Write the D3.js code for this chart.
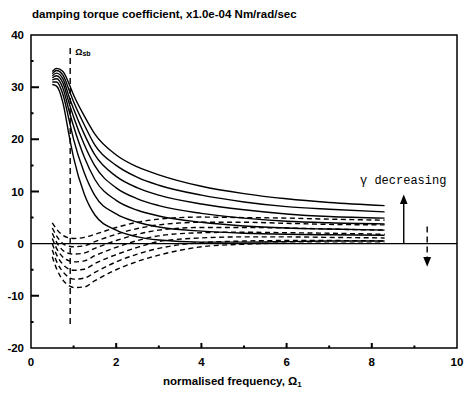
<!DOCTYPE html>
<html>
<head>
<meta charset="utf-8">
<script src="https://cdn.jsdelivr.net/npm/d3@7"></script>
<style>
  body { margin: 0; background: #fff; }
  text { font-family: "Liberation Sans", Arial, sans-serif; font-weight: bold; fill: #000; }
  .mono { font-family: "Liberation Mono", "DejaVu Sans Mono", monospace; font-weight: normal; }
  .curve { fill: none; stroke: #000; stroke-width: 1.4; }
  .dashed { stroke-dasharray: 5,3.5; }
</style>
</head>
<body>
<svg width="465" height="393"></svg>
<script>
// frequencies at which each curve is sampled
const freq = [0.5, 0.6, 0.75, 0.9, 1.0, 1.25, 1.5, 2.0, 2.5, 3.0, 4.0, 5.0, 6.0, 7.0, 8.3];

// solid curves, top to bottom
const solid1 = [33.0, 33.6, 33.0, 30.5, 28.5, 24.5, 21.0, 17.0, 14.7, 13.2, 11.0, 9.6, 8.6, 7.9, 7.3];
const solid2 = [32.6, 33.2, 32.3, 29.3, 27.2, 22.8, 18.9, 15.0, 12.7, 11.2, 9.3, 8.0, 7.1, 6.6, 6.1];
const solid3 = [32.2, 32.7, 31.6, 28.0, 25.8, 21.0, 17.0, 12.9, 10.7, 9.3, 7.6, 6.5, 5.7, 5.2, 4.9];
const solid4 = [31.8, 32.2, 30.8, 26.8, 24.3, 19.0, 14.9, 10.7, 8.6, 7.3, 5.8, 4.9, 4.3, 4.0, 3.8];
const solid5 = [31.4, 31.6, 29.8, 25.3, 22.5, 16.6, 12.3, 8.3, 6.4, 5.3, 4.1, 3.4, 3.0, 2.8, 2.6];
const solid6 = [31.0, 31.0, 28.6, 23.5, 20.0, 13.6, 9.2, 5.7, 4.1, 3.2, 2.4, 2.0, 1.8, 1.7, 1.6];
const solid7 = [30.5, 30.2, 27.0, 20.5, 16.5, 9.5, 5.5, 2.6, 1.3, 0.7, 0.3, 0.3, 0.4, 0.5, 0.5];

// dashed curves, top to bottom
const dashed1 = [4.0, 2.8, 1.6, 1.1, 1.0, 1.2, 1.8, 3.1, 4.1, 4.7, 5.1, 5.0, 4.9, 4.7, 4.5];
const dashed2 = [3.0, 1.5, 0.0, -0.5, -0.6, -0.4, 0.4, 1.8, 2.9, 3.6, 4.1, 4.1, 3.9, 3.7, 3.6];
const dashed3 = [2.0, 0.3, -1.3, -1.9, -2.0, -1.8, -0.9, 0.6, 1.8, 2.6, 3.1, 3.1, 3.0, 2.8, 2.6];
const dashed4 = [1.0, -0.9, -2.6, -3.3, -3.5, -3.3, -2.3, -0.7, 0.6, 1.5, 2.1, 2.2, 2.1, 2.0, 1.8];
const dashed5 = [0.0, -2.1, -4.0, -4.9, -5.1, -4.9, -3.8, -2.1, -0.7, 0.4, 1.1, 1.3, 1.3, 1.2, 1.1];
const dashed6 = [-1.2, -3.4, -5.4, -6.5, -6.8, -6.6, -5.5, -3.5, -2.0, -0.9, 0.2, 0.5, 0.6, 0.6, 0.5];
const dashed7 = [-2.5, -4.8, -7.0, -8.1, -8.4, -8.3, -7.1, -5.0, -3.4, -2.2, -0.6, -0.1, 0.1, 0.1, 0.1];

const xTicks = [0, 2, 4, 6, 8, 10];
const yTicks = [-20, -10, 0, 10, 20, 30, 40];
const xMinor = [1, 2, 3, 4, 5, 6, 7, 8, 9];
const yMinor = [-15, -10, -5, 5, 10, 15, 20, 25, 30, 35];

const omegaSb = 0.92;              // Ωsb marker frequency
const omegaSbRange = [-15.5, 37.5];
const upArrow = {x: 8.75, from: 0, to: 8.5};
const downArrow = {x: 9.3, from: 3.3, to: -3.5};

const svg = d3.select("svg");

const x = d3.scaleLinear().domain([0, 10]).range([31, 457]);
const y = d3.scaleLinear().domain([-20, 40]).range([348, 35]);

// arrowhead
svg.append('defs').append('marker')
    .attr('id', 'head')
    .attr('viewBox', '0 0 10 10')
    .attr('refX', 5).attr('refY', 5)
    .attr('markerWidth', 7).attr('markerHeight', 7)
    .attr('orient', 'auto')
  .append('path')
    .attr('d', 'M0,1 L10,5 L0,9 Z')
    .attr('fill', '#000');

// title
svg.append('text')
    .attr('x', 32).attr('y', 18)
    .style('font-size', '11.5px')
    .text('damping torque coefficient, x1.0e-04 Nm/rad/sec');

// frame
svg.append('rect')
    .attr('x', x(0)).attr('y', y(40))
    .attr('width', x(10) - x(0)).attr('height', y(-20) - y(40))
    .attr('fill', 'none').attr('stroke', '#000').attr('stroke-width', 1.5);

// inward ticks, as one path
const tickPath = d3.path();
xMinor.forEach(d => {
  tickPath.moveTo(x(d), y(-20));
  tickPath.lineTo(x(d), y(-20) - (d % 2 === 0 ? 5 : 2.5));
});
yMinor.forEach(d => {
  tickPath.moveTo(x(0), y(d));
  tickPath.lineTo(x(0) + (d % 10 === 0 ? 8 : 2.5), y(d));
});
svg.append('path')
    .attr('d', tickPath.toString())
    .attr('fill', 'none')
    .attr('stroke', '#000')
    .attr('stroke-width', 2);

// tick labels
svg.append('g').selectAll('text').data(xTicks)
  .enter().append('text')
    .attr('x', d => x(d))
    .attr('y', 366)
    .attr('text-anchor', 'middle')
    .style('font-size', '11.5px')
    .text(d => d);

svg.append('g').selectAll('text').data(yTicks)
  .enter().append('text')
    .attr('x', 24)
    .attr('y', d => y(d) + 4)
    .attr('text-anchor', 'end')
    .style('font-size', '11.5px')
    .text(d => d);

// x label
const xl = svg.append('text')
    .attr('x', 163).attr('y', 385)
    .style('font-size', '11.5px')
    .text('normalised frequency, Ω');
xl.append('tspan').attr('dy', 2).style('font-size', '8px').text('1');

// zero line
svg.append('line')
    .attr('x1', x(0)).attr('x2', x(10))
    .attr('y1', y(0)).attr('y2', y(0))
    .attr('stroke', '#000').attr('stroke-width', 1.4);

const line = d3.line()
    .x(d => x(d[0]))
    .y(d => y(d[1]))
    .curve(d3.curveMonotoneX);

const solids = [solid1, solid2, solid3, solid4, solid5, solid6, solid7];
const dasheds = [dashed1, dashed2, dashed3, dashed4, dashed5, dashed6, dashed7];

svg.append('g').selectAll('path').data(solids)
  .enter().append('path')
    .attr('class', 'curve')
    .attr('d', vals => line(freq.map((f, i) => [f, vals[i]])));

svg.append('g').selectAll('path').data(dasheds)
  .enter().append('path')
    .attr('class', 'curve dashed')
    .attr('d', vals => line(freq.map((f, i) => [f, vals[i]])));

// Ωsb marker
svg.append('line')
    .attr('x1', x(omegaSb)).attr('x2', x(omegaSb))
    .attr('y1', y(omegaSbRange[1])).attr('y2', y(omegaSbRange[0]))
    .attr('stroke', '#000').attr('stroke-width', 1.4)
    .attr('stroke-dasharray', '6,4');

const sb = svg.append('text')
    .attr('x', x(omegaSb) + 5).attr('y', 55)
    .style('font-size', '9px')
    .text('Ω');
sb.append('tspan').attr('dy', 1).style('font-size', '7px').text('sb');

// γ decreasing annotation
svg.append('text')
    .attr('class', 'mono')
    .attr('x', 360).attr('y', 184)
    .style('font-size', '12px')
    .text('γ decreasing');

svg.append('line')
    .attr('x1', x(upArrow.x)).attr('x2', x(upArrow.x))
    .attr('y1', y(upArrow.from)).attr('y2', y(upArrow.to))
    .attr('stroke', '#000').attr('stroke-width', 1.4)
    .attr('marker-end', 'url(#head)');

svg.append('line')
    .attr('x1', x(downArrow.x)).attr('x2', x(downArrow.x))
    .attr('y1', y(downArrow.from)).attr('y2', y(downArrow.to))
    .attr('stroke', '#000').attr('stroke-width', 1.4)
    .attr('stroke-dasharray', '6,4')
    .attr('marker-end', 'url(#head)');
</script>
</body>
</html>
